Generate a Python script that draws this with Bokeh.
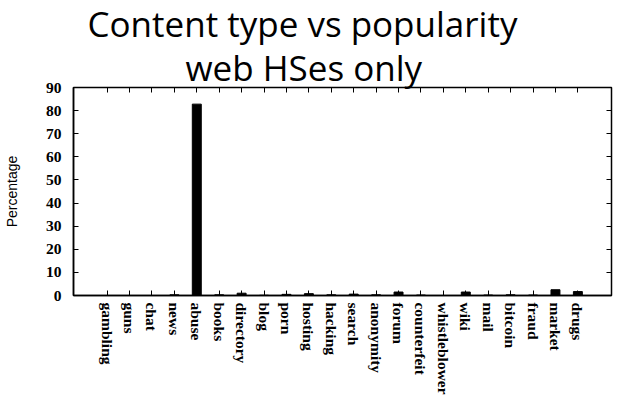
from bokeh.plotting import figure
from bokeh.models import (FactorRange, Range1d, FixedTicker, Title, CategoricalAxis,
                          LinearAxis, ColumnDataSource)
from bokeh.embed import file_html
from bokeh.resources import INLINE

categories = ["gambling", "guns", "chat", "news", "abuse", "books", "directory", "blog",
              "porn", "hosting", "hacking", "search", "anonymity", "forum", "counterfeit",
              "whistleblower", "wiki", "mail", "bitcoin", "fraud", "market", "drugs"]
percentage = [0, 0, 0, 0.3, 82.8, 0.3, 1.0, 0.1, 0.5, 0.8, 0.3, 0.6, 0.3, 1.5, 0.2,
              0.0, 1.5, 0.2, 0.3, 0.2, 2.5, 1.7]
y_ticks = [0, 10, 20, 30, 40, 50, 60, 70, 80, 90]

title_line1 = "Content type vs popularity"
title_line2 = "web HSes only"

src = ColumnDataSource(dict(cat=categories, val=percentage))

p = figure(width=614, height=405, output_backend="svg", toolbar_location=None,
           x_range=FactorRange(factors=categories, range_padding=1,
                               range_padding_units="absolute"),
           y_range=Range1d(0, 90),
           min_border_left=73, min_border_right=3, min_border_top=87, min_border_bottom=110)

p.vbar(x="cat", top="val", width=0.4, source=src, fill_color="black", line_color="black")

p.xgrid.visible = False
p.ygrid.visible = False
p.outline_line_color = "black"
p.outline_line_width = 1.5

serif = "Liberation Serif"

xa = p.xaxis[0]
xa.major_tick_in = 5
xa.major_tick_out = 0
xa.axis_line_width = 1.5
xa.major_label_orientation = "vertical"
xa.major_label_text_font = serif
xa.major_label_text_font_size = "15.5px"
xa.major_label_text_font_style = "bold"
xa.major_label_text_color = "black"
xa.major_label_standoff = 7

ya = p.yaxis[0]
ya.ticker = FixedTicker(ticks=y_ticks)
ya.major_tick_in = 5
ya.major_tick_out = 0
ya.minor_tick_in = 0
ya.minor_tick_out = 0
ya.axis_line_width = 1.5
ya.major_label_text_font = serif
ya.major_label_text_font_size = "15.5px"
ya.major_label_text_font_style = "bold"
ya.major_label_text_color = "black"
ya.major_label_standoff = 12
ya.axis_label = "Percentage"
ya.axis_label_text_font = "Liberation Sans"
ya.axis_label_text_font_size = "14px"
ya.axis_label_text_font_style = "normal"
ya.axis_label_text_color = "black"
ya.axis_label_standoff = 23

top_axis = CategoricalAxis(major_tick_in=5, major_tick_out=0, major_label_text_font_size="0px",
                           major_label_text_alpha=0, major_label_standoff=0,
                           axis_line_color=None)
p.add_layout(top_axis, "above")
right_axis = LinearAxis(ticker=FixedTicker(ticks=y_ticks), major_tick_in=5, major_tick_out=0,
                        minor_tick_in=0, minor_tick_out=0, major_label_text_font_size="0px",
                        major_label_text_alpha=0, major_label_standoff=0, axis_line_color=None)
p.add_layout(right_axis, "right")

p.add_layout(Title(text=title_line2, text_font="Open Sans", text_font_size="35px",
                   text_font_style="normal", text_color="black", align="left",
                   offset=112, standoff=-6), "above")
p.add_layout(Title(text=title_line1, text_font="Open Sans", text_font_size="35px",
                   text_font_style="normal", text_color="black", align="left",
                   offset=14, standoff=-5), "above")

open("out.html", "w").write(file_html(p, INLINE))
